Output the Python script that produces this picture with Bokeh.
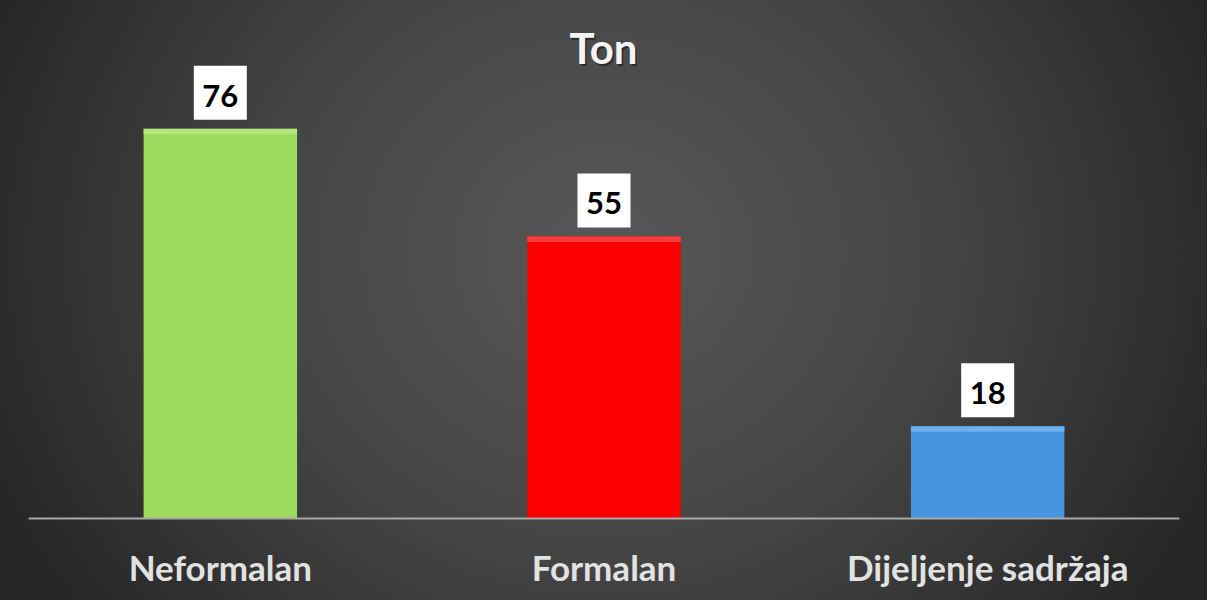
from bokeh.plotting import figure
from bokeh.models import ColumnDataSource, Range1d, FactorRange, Label
from bokeh.core.properties import value
from bokeh.embed import file_html
from bokeh.resources import INLINE

# ---- data ----
categories = ["Neformalan", "Formalan", "Dijeljenje sadržaja"]
counts = [76, 55, 18]
value_labels = ["76", "55", "18"]
title_text = "Ton"

# ---- styles ----
bar_colors = ["#9cdb5b", "#fe0000", "#4894e0"]
bevel_colors = ["#bdf08a", "#ff5c5c", "#7cc0f6"]
FONT = "Lato"
PX_PER_UNIT = 518 / 101.0  # frame height / y-range span

src = ColumnDataSource(dict(cat=categories, val=counts, lab=value_labels,
                            color=bar_colors, bevel=bevel_colors,
                            bevel_bottom=[v - 1.1 for v in counts],
                            box_y=[v + 36 / PX_PER_UNIT for v in counts]))

p = figure(width=1207, height=600, x_range=FactorRange(*categories),
           y_range=Range1d(0, 101), output_backend="svg", toolbar_location=None,
           title=None, min_border_left=28, min_border_right=28,
           min_border_top=0, min_border_bottom=82,
           styles={"background": "radial-gradient(ellipse 55% 100% at 50% 42%, #585858 0%, #454545 50%, #262626 100%)"})
p.border_fill_color = None
p.background_fill_color = None
p.outline_line_color = None
p.grid.visible = False
p.yaxis.visible = False

p.vbar(x="cat", top="val", width=0.4, color="color", line_color=None, source=src)
p.vbar(x="cat", top="val", bottom="bevel_bottom", width=0.4, color="bevel",
       fill_alpha=0.65, line_color=None, source=src)

p.rect(x="cat", y="box_y", width=53, height=54, width_units="screen",
       height_units="screen", fill_color="white", line_color=None, source=src)
p.text(x="cat", y="val", text="lab", source=src, text_font=value(FONT),
       text_font_style="bold", text_font_size="31px", text_color="black",
       text_align="center", text_baseline="middle", y_offset=-33)

ax = p.xaxis[0]
ax.axis_line_color = "#a8a8a8"
ax.axis_line_width = 2
ax.major_tick_line_color = None
ax.minor_tick_line_color = None
ax.major_tick_out = 0
ax.major_label_standoff = 27
ax.major_label_text_font = FONT
ax.major_label_text_font_style = "bold"
ax.major_label_text_font_size = "35px"
ax.major_label_text_color = "#e2e2e2"

shadow = Label(x=576.5, y=469, x_units="screen", y_units="screen", text=title_text,
               text_font=FONT, text_font_style="bold", text_font_size="42px",
               text_color="black", text_alpha=0.45, text_align="center",
               text_baseline="alphabetic")
title = Label(x=575, y=471, x_units="screen", y_units="screen", text=title_text,
              text_font=FONT, text_font_style="bold", text_font_size="42px",
              text_color="#f4f4f4", text_align="center", text_baseline="alphabetic")
p.add_layout(shadow)
p.add_layout(title)

open("out.html", "w").write(file_html(p, INLINE))
